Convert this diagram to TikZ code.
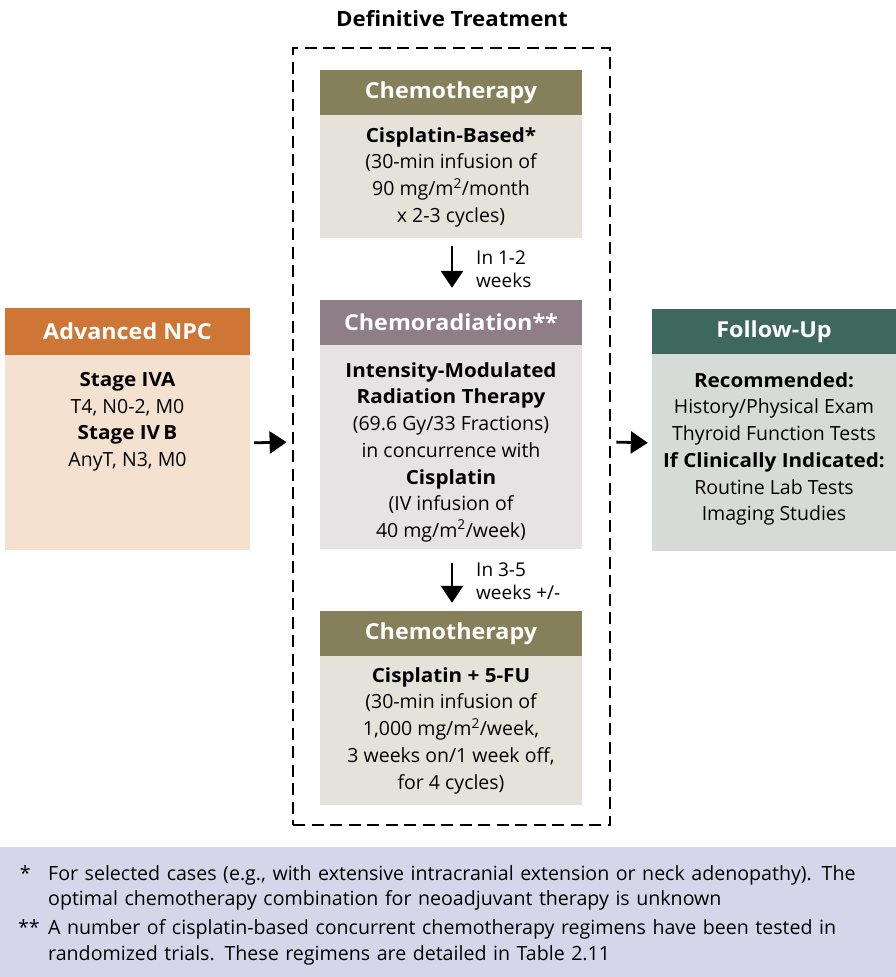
\documentclass[tikz,border=0pt]{standalone}
\usepackage{fontspec}
\setmainfont{Open Sans}[BoldFeatures={FakeStretch=1.06}]
\newfontfamily\notefont{Open Sans}
\usetikzlibrary{arrows.meta}
\definecolor{oliveH}{HTML}{857F5A}
\definecolor{oliveB}{HTML}{E5E2DA}
\definecolor{mauveH}{HTML}{8F7E85}
\definecolor{mauveB}{HTML}{E7E2E3}
\definecolor{orangeH}{HTML}{CD7636}
\definecolor{orangeB}{HTML}{F4E1D0}
\definecolor{tealH}{HTML}{3E675E}
\definecolor{tealB}{HTML}{D7DBD7}
\definecolor{noteBG}{HTML}{D6D6EB}
% box body text: width, height, top gap, lines
\newcommand{\boxtext}[4]{\parbox[c][#2][t]{#1}{\centering\vspace*{#3}#4}}
\tikzset{
  hdr/.style={minimum width=#1, minimum height=45pt, inner sep=0pt, text=white,
    font=\fontsize{22}{26}\selectfont\bfseries},
  bod/.style={inner sep=0pt, align=center, text=black,
    font=\fontsize{19.5}{26.7}\selectfont},
  lbl/.style={anchor=west, align=left, inner sep=0pt, font=\fontsize{19}{23.5}\selectfont},
  arr/.style={line width=2.8pt, -{Triangle[length=17pt,width=22pt]}},
  frame/.style={draw, line width=2.8pt, dash pattern=on 12pt off 6.5pt, inner sep=0pt},
  note/.style={anchor=north west, inner sep=0pt, text width=840pt, align=left,
    font=\notefont\fontsize{19.6}{25.5}\selectfont},
  notemark/.style={anchor=north east, inner sep=0pt, font=\notefont\fontsize{19.6}{25.5}\selectfont}
}
\begin{document}
\begin{tikzpicture}[x=1pt,y=-1pt]
\useasboundingbox (0,0) rectangle (896,977);

% title and dashed container
\node[font=\fontsize{21}{24}\selectfont\bfseries] (title) at (452,19) {Definitive Treatment};
\node[frame, minimum width=317pt, minimum height=777pt] (tx) at (451.5,436.5) {};

% first chemotherapy block
\node[hdr=262pt, fill=oliveH] (c1h) at (451,92.5) {Chemotherapy};
\node[bod, fill=oliveB, anchor=north] (c1b) at (c1h.south)
  {\boxtext{262pt}{123pt}{12pt}{\textbf{Cisplatin-Based*}\\(30-min infusion of\\90 mg/m\textsuperscript{2}/month\\x 2-3 cycles)}};

% chemoradiation block
\node[hdr=262pt, fill=mauveH] (c2h) at (451,322.5) {Chemoradiation**};
\node[bod, fill=mauveB, anchor=north] (c2b) at (c2h.south)
  {\boxtext{262pt}{204pt}{17pt}{\textbf{Intensity-Modulated}\\\textbf{Radiation Therapy}\\(69.6 Gy/33 Fractions)\\in concurrence with\\\textbf{Cisplatin}\\(IV infusion of\\40 mg/m\textsuperscript{2}/week)}};

% second chemotherapy block
\node[hdr=262pt, fill=oliveH] (c3h) at (451,633.5) {Chemotherapy};
\node[bod, fill=oliveB, anchor=north] (c3b) at (c3h.south)
  {\boxtext{262pt}{149pt}{11pt}{\textbf{Cisplatin + 5-FU}\\(30-min infusion of\\1,000 mg/m\textsuperscript{2}/week,\\3 weeks on/1 week off,\\for 4 cycles)}};

% staging block
\node[hdr=245pt, fill=orangeH, minimum height=47pt] (npch) at (127.5,331.5) {Advanced NPC};
\node[bod, fill=orangeB, anchor=north] (npcb) at (npch.south)
  {\boxtext{245pt}{195pt}{17pt}{\textbf{Stage IVA}\\T4, N0-2, M0\\\textbf{Stage IV\,B}\\AnyT, N3, M0}};

% follow-up block
\node[hdr=244pt, fill=tealH] (fuh) at (774,331.5) {Follow-Up};
\node[bod, fill=tealB, anchor=north] (fub) at (fuh.south)
  {\boxtext{244pt}{197pt}{18pt}{\textbf{Recommended:}\\History/Physical Exam\\Thyroid Function Tests\\\textbf{If Clinically Indicated:}\\Routine Lab Tests\\Imaging Studies}};

% connectors
\draw[arr, shorten <=7pt, shorten >=12pt] ([xshift=1pt]c1b.south) -- ([xshift=1pt]c2h.north);
\draw[arr, shorten <=13pt, shorten >=8pt] ([xshift=1pt]c2b.south) -- ([xshift=1pt]c3h.north);
\draw[arr, shorten <=4pt, shorten >=5pt] ([yshift=10pt]npcb.east) -- ([yshift=-5.5pt]tx.west);
\draw[arr, shorten <=5pt, shorten >=4pt] ([yshift=-5.5pt]tx.east) -- ([yshift=10pt]fub.west);

% timing labels
\node[lbl] (t1) at (476,269) {In 1-2\\weeks};
\node[lbl] (t2) at (476,581) {In 3-5\\weeks +/-};

% footnotes
\fill[noteBG] (0,847) rectangle (896,977);
\node[note] (n1) at (48,865)
  {For selected cases (e.g., with extensive intracranial extension or neck adenopathy). The\\optimal chemotherapy combination for neoadjuvant therapy is unknown};
\node[note] (n2) at (48,919.5)
  {A number of cisplatin-based concurrent chemotherapy regimens have been tested in\\randomized trials. These regimens are detailed in Table 2.11};
\node[notemark] (s1) at (31,865) {*};
\node[notemark] (s2) at (40,919.5) {**};
\end{tikzpicture}
\end{document}
